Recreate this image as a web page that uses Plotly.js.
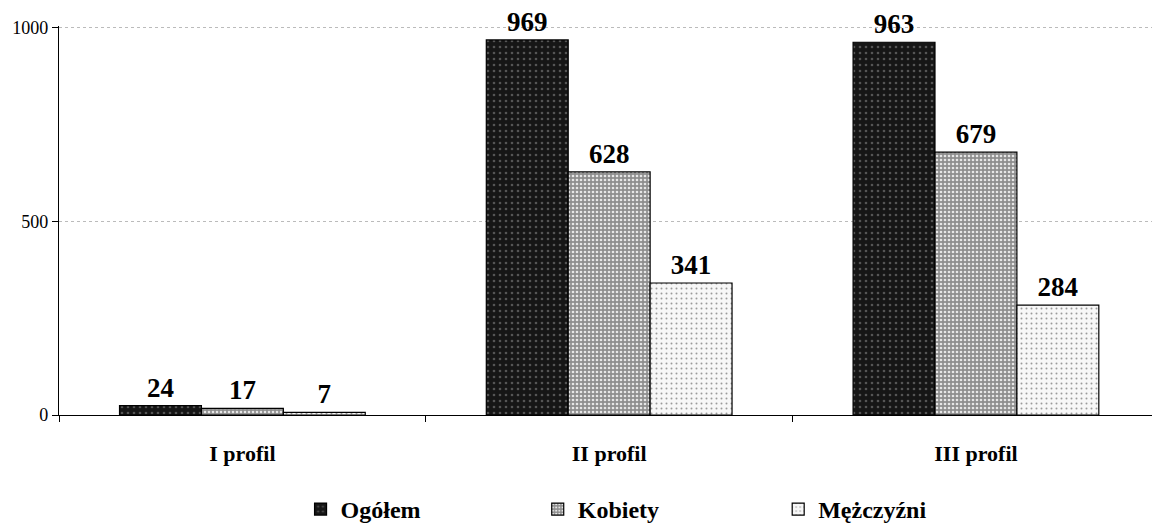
<!DOCTYPE html>
<html>
<head>
<meta charset="utf-8">
<script src="https://cdn.plot.ly/plotly-3.0.1.min.js"></script>
<style>html,body{margin:0;padding:0;background:#fff;}#chart{width:1152px;height:524px;}</style>
</head>
<body>
<div id="chart"></div>
<script>
const categories = ["I profil", "II profil", "III profil"];
const seriesNames = ["Ogółem", "Kobiety", "Mężczyźni"];
const ogolem = [24, 969, 963];
const kobiety = [17, 628, 679];
const mezczyzni = [7, 341, 284];
const yTicks = [0, 500, 1000];

const serif = "'Liberation Serif', 'Times New Roman', serif";
const valuesList = [ogolem, kobiety, mezczyzni];
const fills = ["#161616", "#a9a9a9", "#f2f2f2"];
const patterns = [
  {shape: ".", fgcolor: "#555", bgcolor: "#161616", size: 6, solidity: 0.15},
  {shape: ".", fgcolor: "#e6e6e6", bgcolor: "#8e8e8e", size: 4, solidity: 0.35},
  {shape: ".", fgcolor: "#9a9a9a", bgcolor: "#f7f7f7", size: 5, solidity: 0.12}
];
const legendIds = ["legend", "legend2", "legend3"];

const traces = seriesNames.map((name, i) => ({
  type: "bar",
  name: name,
  legend: legendIds[i],
  x: categories,
  y: valuesList[i],
  text: valuesList[i].map(String),
  textposition: "outside",
  cliponaxis: false,
  textfont: {family: serif, size: 27, color: "#000", weight: "bold"},
  marker: {color: fills[i], pattern: patterns[i], line: {color: "#000", width: 1.2}},
  hoverinfo: "none"
}));

const legendFont = {family: serif, size: 24, color: "#000", weight: "bold"};
function leg(x) {
  return {x: x, xanchor: "left", y: -0.185, yanchor: "top", font: legendFont,
          itemwidth: 30, bgcolor: "rgba(0,0,0,0)", borderwidth: 0};
}

const layout = {
  width: 1152, height: 524,
  paper_bgcolor: "#fff", plot_bgcolor: "#fff",
  margin: {l: 59, r: 0, t: 26, b: 109, autoexpand: false},
  barmode: "group",
  bargap: 0.33,
  bargroupgap: 0,
  showlegend: true,
  legend: leg(0.221),
  legend2: leg(0.438),
  legend3: leg(0.658),
  xaxis: {
    type: "category",
    range: [-0.5, 2.48],
    showline: true, linecolor: "#000", linewidth: 1.2,
    ticks: "outside", tickcolor: "#000", ticklen: 6,
    tickson: "boundaries",
    showgrid: false,
    tickfont: {family: serif, size: 22, color: "#000", weight: "bold"},
    ticklabelstandoff: 18
  },
  yaxis: {
    range: [0, 1005],
    tickvals: yTicks,
    ticktext: yTicks.map(String),
    showline: true, linecolor: "#000", linewidth: 1.2,
    ticks: "outside", tickcolor: "#000", ticklen: 6,
    showgrid: true, gridcolor: "#bbb", griddash: "dot", gridwidth: 1,
    zeroline: false,
    tickfont: {family: serif, size: 18, color: "#000"}
  }
};

Plotly.newPlot("chart", traces, layout, {staticPlot: true, displayModeBar: false});
</script>
</body>
</html>
